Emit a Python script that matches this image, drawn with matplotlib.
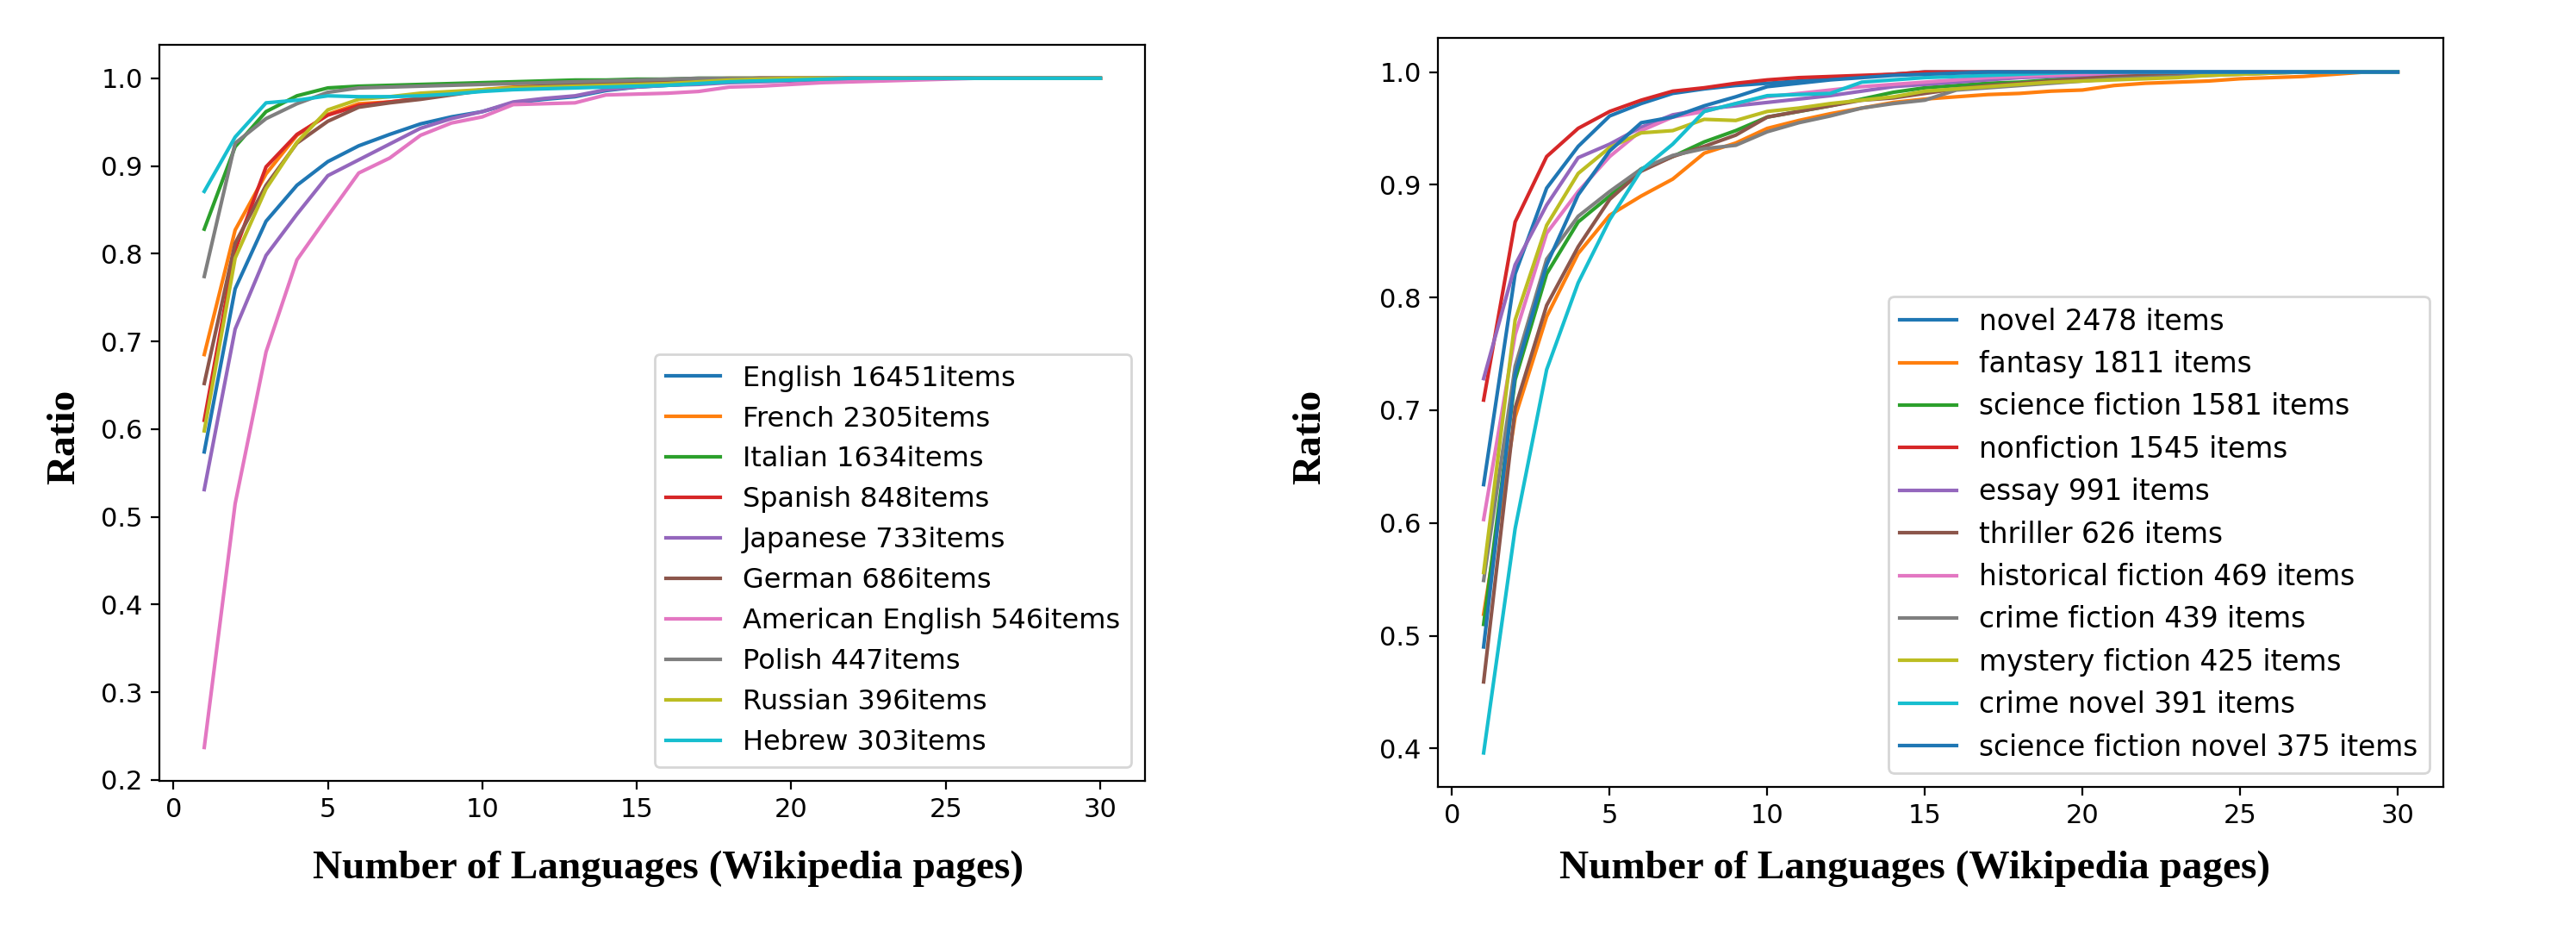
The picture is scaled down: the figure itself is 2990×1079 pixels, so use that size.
import matplotlib
matplotlib.use("Agg")
import matplotlib.pyplot as plt

# number of languages (x axis), shared by both panels
n_langs = list(range(1, 31))

# left panel: ratio per original language
lang_labels = ["English 16451items", "French 2305items", "Italian 1634items",
               "Spanish 848items", "Japanese 733items", "German 686items",
               "American English 546items", "Polish 447items",
               "Russian 396items", "Hebrew 303items"]

english = [0.574, 0.760, 0.837, 0.878, 0.905, 0.923, 0.936, 0.948, 0.956, 0.962,
           0.972, 0.976, 0.979, 0.986, 0.990, 0.992, 0.994, 0.996, 0.997, 0.998,
           0.998, 0.999, 0.999, 0.999, 1.0, 1.0, 1.0, 1.0, 1.0, 1.0]
french = [0.685, 0.827, 0.891, 0.935, 0.959, 0.971, 0.973, 0.977, 0.982, 0.987,
          0.990, 0.992, 0.994, 0.996, 0.997, 0.998, 0.999, 1.0, 1.0, 1.0,
          1.0, 1.0, 1.0, 1.0, 1.0, 1.0, 1.0, 1.0, 1.0, 1.0]
italian = [0.828, 0.922, 0.962, 0.980, 0.989, 0.991, 0.992, 0.993, 0.994, 0.995,
           0.996, 0.997, 0.998, 0.998, 0.999, 0.999, 1.0, 1.0, 1.0, 1.0,
           1.0, 1.0, 1.0, 1.0, 1.0, 1.0, 1.0, 1.0, 1.0, 1.0]
spanish = [0.610, 0.804, 0.899, 0.936, 0.958, 0.969, 0.973, 0.977, 0.982, 0.986,
           0.989, 0.991, 0.993, 0.995, 0.996, 0.997, 0.998, 0.999, 1.0, 1.0,
           1.0, 1.0, 1.0, 1.0, 1.0, 1.0, 1.0, 1.0, 1.0, 1.0]
japanese = [0.531, 0.714, 0.798, 0.845, 0.889, 0.907, 0.925, 0.943, 0.954, 0.962,
            0.973, 0.977, 0.980, 0.987, 0.990, 0.992, 0.993, 0.995, 0.996, 0.997,
            0.998, 0.999, 0.999, 1.0, 1.0, 1.0, 1.0, 1.0, 1.0, 1.0]
german = [0.652, 0.812, 0.878, 0.926, 0.951, 0.967, 0.972, 0.976, 0.981, 0.986,
          0.989, 0.991, 0.993, 0.995, 0.996, 0.997, 0.998, 0.999, 1.0, 1.0,
          1.0, 1.0, 1.0, 1.0, 1.0, 1.0, 1.0, 1.0, 1.0, 1.0]
american = [0.237, 0.515, 0.688, 0.793, 0.843, 0.892, 0.909, 0.935, 0.949, 0.956,
            0.970, 0.971, 0.972, 0.981, 0.982, 0.983, 0.985, 0.990, 0.991, 0.993,
            0.995, 0.996, 0.997, 0.998, 0.999, 1.0, 1.0, 1.0, 1.0, 1.0]
polish = [0.774, 0.926, 0.954, 0.971, 0.984, 0.989, 0.990, 0.991, 0.992, 0.993,
          0.994, 0.995, 0.996, 0.997, 0.998, 0.999, 1.0, 1.0, 1.0, 1.0,
          1.0, 1.0, 1.0, 1.0, 1.0, 1.0, 1.0, 1.0, 1.0, 1.0]
russian = [0.598, 0.795, 0.874, 0.927, 0.964, 0.976, 0.979, 0.983, 0.985, 0.987,
           0.989, 0.990, 0.991, 0.992, 0.993, 0.994, 0.996, 0.998, 0.999, 1.0,
           1.0, 1.0, 1.0, 1.0, 1.0, 1.0, 1.0, 1.0, 1.0, 1.0]
hebrew = [0.871, 0.933, 0.972, 0.975, 0.980, 0.979, 0.979, 0.980, 0.982, 0.985,
          0.987, 0.988, 0.989, 0.990, 0.991, 0.992, 0.994, 0.996, 0.997, 0.998,
          0.999, 1.0, 1.0, 1.0, 1.0, 1.0, 1.0, 1.0, 1.0, 1.0]
lang_ratios = [english, french, italian, spanish, japanese, german, american,
               polish, russian, hebrew]

# right panel: ratio per genre
genre_labels = ["novel 2478 items", "fantasy 1811 items",
                "science fiction 1581 items", "nonfiction 1545 items",
                "essay 991 items", "thriller 626 items",
                "historical fiction 469 items", "crime fiction 439 items",
                "mystery fiction 425 items", "crime novel 391 items",
                "science fiction novel 375 items"]

novel = [0.634, 0.821, 0.897, 0.934, 0.961, 0.972, 0.981, 0.985, 0.988, 0.990,
         0.992, 0.994, 0.996, 0.998, 1.0, 1.0, 1.0, 1.0, 1.0, 1.0,
         1.0, 1.0, 1.0, 1.0, 1.0, 1.0, 1.0, 1.0, 1.0, 1.0]
fantasy = [0.519, 0.694, 0.783, 0.839, 0.873, 0.890, 0.905, 0.928, 0.937, 0.950,
           0.957, 0.963, 0.968, 0.973, 0.976, 0.978, 0.980, 0.981, 0.983, 0.984,
           0.988, 0.990, 0.991, 0.992, 0.994, 0.995, 0.996, 0.998, 1.0, 1.0]
scifi = [0.510, 0.727, 0.821, 0.867, 0.890, 0.914, 0.925, 0.938, 0.948, 0.960,
         0.965, 0.970, 0.976, 0.982, 0.986, 0.988, 0.990, 0.991, 0.993, 0.995,
         0.996, 0.997, 0.998, 0.999, 1.0, 1.0, 1.0, 1.0, 1.0, 1.0]
nonfiction = [0.709, 0.867, 0.925, 0.950, 0.965, 0.975, 0.983, 0.986, 0.990, 0.993,
              0.995, 0.996, 0.997, 0.998, 1.0, 1.0, 1.0, 1.0, 1.0, 1.0,
              1.0, 1.0, 1.0, 1.0, 1.0, 1.0, 1.0, 1.0, 1.0, 1.0]
essay = [0.728, 0.829, 0.882, 0.924, 0.936, 0.951, 0.962, 0.967, 0.970, 0.973,
         0.976, 0.979, 0.983, 0.987, 0.989, 0.991, 0.993, 0.995, 0.996, 0.997,
         0.998, 0.999, 1.0, 1.0, 1.0, 1.0, 1.0, 1.0, 1.0, 1.0]
thriller = [0.459, 0.702, 0.793, 0.845, 0.887, 0.912, 0.925, 0.934, 0.944, 0.960,
            0.965, 0.970, 0.975, 0.977, 0.981, 0.985, 0.988, 0.990, 0.992, 0.994,
            0.996, 0.997, 0.998, 0.999, 1.0, 1.0, 1.0, 1.0, 1.0, 1.0]
historical = [0.603, 0.767, 0.857, 0.894, 0.925, 0.948, 0.960, 0.965, 0.972, 0.978,
              0.981, 0.984, 0.987, 0.989, 0.991, 0.993, 0.995, 0.996, 0.997, 0.998,
              0.999, 1.0, 1.0, 1.0, 1.0, 1.0, 1.0, 1.0, 1.0, 1.0]
crime_fiction = [0.549, 0.739, 0.834, 0.872, 0.894, 0.914, 0.926, 0.932, 0.935, 0.947,
                 0.955, 0.961, 0.968, 0.972, 0.975, 0.984, 0.986, 0.988, 0.990, 0.992,
                 0.994, 0.995, 0.996, 0.997, 0.998, 0.999, 1.0, 1.0, 1.0, 1.0]
mystery = [0.556, 0.780, 0.864, 0.910, 0.933, 0.946, 0.948, 0.958, 0.957, 0.965,
           0.968, 0.972, 0.975, 0.978, 0.983, 0.985, 0.987, 0.989, 0.991, 0.992,
           0.993, 0.994, 0.995, 0.997, 0.998, 0.999, 1.0, 1.0, 1.0, 1.0]
crime_novel = [0.396, 0.595, 0.736, 0.813, 0.869, 0.913, 0.936, 0.965, 0.972, 0.979,
               0.980, 0.981, 0.991, 0.993, 0.995, 0.996, 0.997, 0.998, 0.999, 1.0,
               1.0, 1.0, 1.0, 1.0, 1.0, 1.0, 1.0, 1.0, 1.0, 1.0]
scifi_novel = [0.490, 0.732, 0.829, 0.891, 0.930, 0.955, 0.960, 0.970, 0.978, 0.987,
               0.990, 0.993, 0.995, 0.997, 0.998, 0.999, 1.0, 1.0, 1.0, 1.0,
               1.0, 1.0, 1.0, 1.0, 1.0, 1.0, 1.0, 1.0, 1.0, 1.0]
genre_ratios = [novel, fantasy, scifi, nonfiction, essay, thriller, historical,
                crime_fiction, mystery, crime_novel, scifi_novel]

label_font = {"family": "Liberation Serif", "weight": "bold", "size": 17}

fig = plt.figure(figsize=(14.95, 5.395), dpi=200)
ax1 = fig.add_axes([0.0619, 0.1603, 0.3826, 0.7915])
ax2 = fig.add_axes([0.5582, 0.1538, 0.3903, 0.8054])

for vals, lab in zip(lang_ratios, lang_labels):
    ax1.plot(n_langs, vals, label=lab)
for vals, lab in zip(genre_ratios, genre_labels):
    ax2.plot(n_langs, vals, label=lab)

# left panel labels
ax1.set_xlabel("Number of Languages (Wikipedia pages)", fontdict=label_font)
ax1.set_ylabel("Ratio", fontdict=label_font)
ax1.xaxis.set_label_coords(0.516, -0.094)
ax1.yaxis.set_label_coords(-0.078, 0.467)
ax1.legend(loc="lower right", fontsize=11.5)

# right panel labels
ax2.set_xlabel("Number of Languages (Wikipedia pages)", fontdict=label_font)
ax2.set_ylabel("Ratio", fontdict=label_font)
ax2.xaxis.set_label_coords(0.474, -0.085)
ax2.yaxis.set_label_coords(-0.109, 0.467)
ax2.legend(loc="lower right", fontsize=11.8)

for ax in (ax1, ax2):
    ax.tick_params(labelsize=11)

fig.savefig("out.png", dpi=200)
